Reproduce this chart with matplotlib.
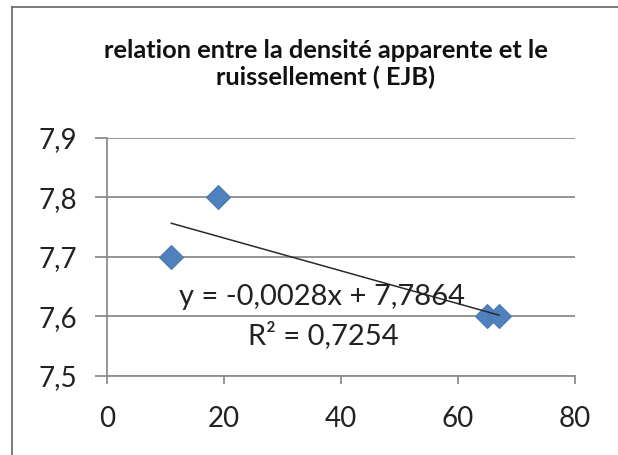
import numpy as np
import matplotlib
matplotlib.use("Agg")
from matplotlib import pyplot as plt
from matplotlib.lines import Line2D

plt.rcParams['font.family'] = ['Lato', 'DejaVu Sans']

# data
x_vals = [11, 19, 65, 67]
y_vals = [7.7, 7.8, 7.6, 7.6]
x_ticks = [0, 20, 40, 60, 80]
y_ticks = [7.5, 7.6, 7.7, 7.8, 7.9]
title = "relation entre la densité apparente et le\nruissellement ( EJB)"
eq_text = "y = -0,0028x + 7,7864"
r2_text = "R² = 0,7254"

W, H = 618, 455
fig = plt.figure(figsize=(W / 100, H / 100), dpi=100)
# plot area in pixels: x 107..575, y 137.5..376
ax = fig.add_axes([107 / W, (H - 376) / H, 468 / W, 238.5 / H])

grid_col = '#8c8c8c'
ax.set_xlim(0, 80)
ax.set_ylim(7.5, 7.9)
ax.set_xticks(x_ticks)
ax.set_yticks(y_ticks)
ax.set_xticklabels([str(v) for v in x_ticks])
ax.set_yticklabels([f"{v:.1f}".replace('.', ',') for v in y_ticks])
ax.yaxis.grid(True, color=grid_col, lw=1.3)
ax.set_axisbelow(True)
for s in ['top', 'right']:
    ax.spines[s].set_visible(False)
for s in ['left', 'bottom']:
    ax.spines[s].set_color(grid_col)
    ax.spines[s].set_linewidth(1.3)
ax.tick_params(axis='y', length=8.6, width=1.3, color=grid_col, pad=13, labelsize=20, labelcolor='#222222')
ax.tick_params(axis='x', length=5.8, width=1.3, color=grid_col, pad=16, labelsize=20, labelcolor='#222222')

# points
ax.plot(x_vals, y_vals, 'D', ms=12.2, color='#4F81BD', mec='#4A7AB5', mew=0.8, zorder=3)

# linear trendline
slope, intercept = np.polyfit(x_vals, y_vals, 1)
xs = np.array([min(x_vals), max(x_vals)])
ax.plot(xs, slope * xs + intercept, color='#2a2a2a', lw=1.1, zorder=4)

fig.text(322 / W, 1 - 297 / H, eq_text, ha='center', va='center', fontsize=21, color='#222222', zorder=5)
fig.text(323 / W, 1 - 335 / H, r2_text, ha='center', va='center', fontsize=21, color='#222222', zorder=5)

fig.text(326 / W, 1 - 64 / H, title, ha='center', va='center', fontsize=18.3,
         fontweight='bold', linespacing=1.2, color='#111111')

# chart frame (top and left edge visible)
fig.add_artist(Line2D([12 / W, 1], [1 - 7 / H, 1 - 7 / H], transform=fig.transFigure, color='#666666', lw=1.2))
fig.add_artist(Line2D([12 / W, 12 / W], [0, 1 - 7 / H], transform=fig.transFigure, color='#666666', lw=1.2))

fig.savefig('out.png', dpi=100)
